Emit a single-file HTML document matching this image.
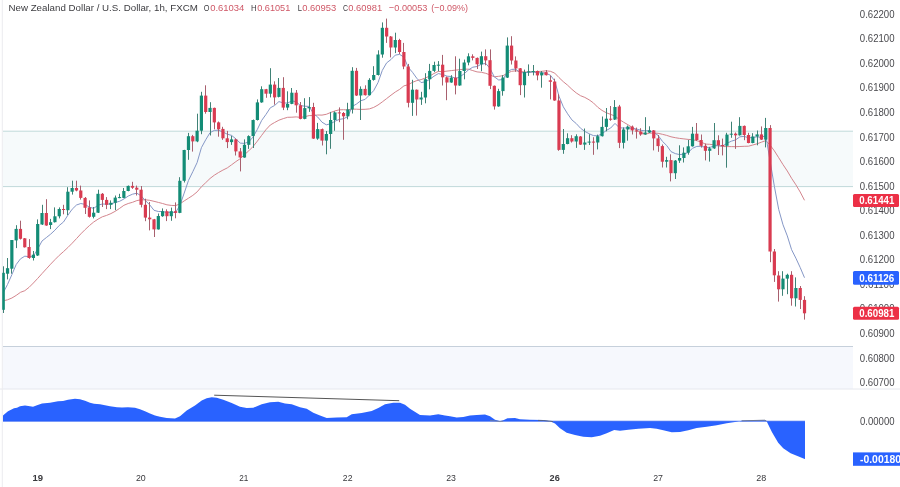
<!DOCTYPE html>
<html><head><meta charset="utf-8"><style>
html,body{margin:0;padding:0;background:#fff;width:900px;height:487px;overflow:hidden}
svg{position:absolute;left:0;top:0;will-change:transform}
text{font-family:"Liberation Sans",sans-serif}
.pl{font-size:10.4px;fill:#4a4a4e}
</style></head><body>
<svg width="900" height="487" viewBox="0 0 900 487">
<rect x="0" y="0" width="900" height="487" fill="#fff"/>
<rect x="3" y="131.2" width="850" height="55.4" fill="#f6fafb"/>
<line x1="3" y1="131.2" x2="853" y2="131.2" stroke="#c0d9da" stroke-width="1"/>
<line x1="3" y1="186.6" x2="853" y2="186.6" stroke="#c0d9da" stroke-width="1"/>
<rect x="3" y="346.5" width="850" height="42.5" fill="#f6f8fd"/>
<line x1="3" y1="346.5" x2="853" y2="346.5" stroke="#c6d0db" stroke-width="1"/>
<line x1="0" y1="389" x2="900" y2="389" stroke="#e6e8ee" stroke-width="1"/>
<line x1="2.3" y1="0" x2="2.3" y2="487" stroke="#ebebef" stroke-width="1"/>
<defs><clipPath id="ca"><rect x="2.2" y="0" width="850.8" height="389"/></clipPath></defs>
<g clip-path="url(#ca)">
<polyline points="3.2,300.8 7.5,299.8 11.9,298.0 16.2,295.4 20.5,292.3 24.8,290.7 29.1,287.3 33.4,283.0 37.7,278.4 42.0,273.6 46.3,268.9 50.6,264.2 54.9,259.7 59.2,255.4 63.5,251.6 67.9,247.5 72.2,243.2 76.5,238.6 80.8,233.9 85.1,229.6 89.4,225.6 93.7,222.0 98.0,219.2 102.3,216.8 106.6,215.4 110.9,213.6 115.2,211.3 119.6,208.4 123.9,205.3 128.2,203.5 132.5,202.3 136.8,200.6 141.1,199.8 145.4,199.8 149.7,200.3 154.0,201.3 158.3,202.4 162.6,203.5 166.9,204.8 171.2,205.4 175.6,205.6 179.9,203.9 184.2,200.9 188.5,198.2 192.8,195.4 197.1,191.9 201.4,186.8 205.7,182.7 210.0,178.5 214.3,175.2 218.6,172.5 222.9,170.1 227.3,167.9 231.6,164.8 235.9,161.6 240.2,158.7 244.5,154.6 248.8,150.8 253.1,146.5 257.4,141.1 261.7,135.3 266.0,129.6 270.3,125.0 274.6,122.5 278.9,120.2 283.3,118.6 287.6,117.3 291.9,117.2 296.2,116.9 300.5,117.4 304.8,116.7 309.1,115.6 313.4,115.6 317.7,115.0 322.0,115.1 326.3,114.3 330.6,112.5 335.0,110.9 339.3,109.8 343.6,109.7 347.9,110.0 352.2,109.1 356.5,109.2 360.8,109.4 365.1,109.3 369.4,108.9 373.7,107.4 378.0,105.0 382.3,101.9 386.6,98.6 391.0,95.2 395.3,92.0 399.6,89.4 403.9,85.9 408.2,84.7 412.5,82.3 416.8,80.6 421.1,79.6 425.4,78.0 429.7,76.0 434.0,73.5 438.3,71.4 442.7,71.7 447.0,71.1 451.3,70.6 455.6,70.1 459.9,69.7 464.2,69.1 468.5,69.2 472.8,70.6 477.1,71.9 481.4,72.3 485.7,73.3 490.0,74.9 494.3,76.8 498.7,76.3 503.0,75.7 507.3,73.1 511.6,71.3 515.9,70.8 520.2,71.5 524.5,71.9 528.8,72.2 533.1,71.9 537.4,71.5 541.7,71.3 546.0,70.8 550.4,71.3 554.7,73.1 559.0,77.6 563.3,81.7 567.6,85.2 571.9,89.3 576.2,92.9 580.5,95.7 584.8,97.4 589.1,99.8 593.4,102.9 597.7,107.2 602.0,110.4 606.4,112.8 610.7,114.4 615.0,116.1 619.3,119.5 623.6,122.2 627.9,124.7 632.2,127.4 636.5,130.1 640.8,132.6 645.1,134.2 649.4,133.2 653.7,133.0 658.1,133.3 662.4,134.3 666.7,135.4 671.0,136.8 675.3,137.7 679.6,138.4 683.9,138.9 688.2,139.4 692.5,139.7 696.8,140.7 701.1,142.0 705.4,144.1 709.7,144.3 714.1,144.9 718.4,145.7 722.7,146.5 727.0,146.6 731.3,146.6 735.6,146.7 739.9,146.5 744.2,146.3 748.5,146.2 752.8,145.0 757.1,143.8 761.4,142.2 765.8,140.6 770.1,145.1 774.4,150.9 778.7,157.7 783.0,164.6 787.3,171.0 791.6,178.3 795.9,184.8 800.2,192.0 804.5,200.3" fill="none" stroke="#d3858d" stroke-width="1"/>
<polyline points="3.2,292.8 7.5,284.5 11.9,274.6 16.2,264.5 20.5,258.8 24.8,256.2 29.1,256.6 33.4,256.2 37.7,249.0 42.0,241.0 46.3,237.6 50.6,234.2 54.9,230.2 59.2,225.5 63.5,222.0 67.9,215.2 72.2,209.2 76.5,205.0 80.8,203.5 85.1,204.4 89.4,207.2 93.7,208.4 98.0,205.2 102.3,204.0 106.6,204.2 110.9,203.9 115.2,202.5 119.6,201.3 123.9,199.0 128.2,196.1 132.5,194.2 136.8,193.2 141.1,195.8 145.4,200.6 149.7,204.8 154.0,210.3 158.3,211.5 162.6,211.5 166.9,212.5 171.2,212.2 175.6,212.4 179.9,205.4 184.2,193.1 188.5,180.4 192.8,171.7 197.1,162.6 201.4,147.7 205.7,139.8 210.0,132.7 214.3,130.4 218.6,130.2 222.9,132.0 227.3,134.2 231.6,135.4 235.9,138.9 240.2,143.1 244.5,143.4 248.8,141.8 253.1,137.0 257.4,129.3 261.7,120.4 266.0,114.4 270.3,107.8 274.6,105.5 278.9,101.6 283.3,102.9 287.6,103.1 291.9,100.8 296.2,101.8 300.5,105.6 304.8,106.2 309.1,106.4 313.4,113.5 317.7,117.0 322.0,122.2 326.3,124.8 330.6,123.8 335.0,121.2 339.3,119.4 343.6,118.7 347.9,116.6 352.2,106.5 356.5,104.0 360.8,100.7 365.1,99.4 369.4,95.1 373.7,90.6 378.0,82.6 382.3,70.4 386.6,62.9 391.0,59.5 395.3,55.1 399.6,54.4 403.9,57.1 408.2,67.3 412.5,72.3 416.8,78.3 421.1,82.6 425.4,81.8 429.7,79.4 434.0,76.2 438.3,73.6 442.7,74.5 447.0,76.2 451.3,76.5 455.6,78.5 459.9,76.9 464.2,73.7 468.5,69.8 472.8,67.2 477.1,66.5 481.4,64.2 485.7,63.4 490.0,68.4 494.3,76.8 498.7,80.0 503.0,79.5 507.3,71.9 511.6,69.4 515.9,69.2 520.2,72.8 524.5,72.6 528.8,72.3 533.1,72.0 537.4,72.8 541.7,72.7 546.0,73.3 550.4,75.2 554.7,80.8 559.0,96.2 563.3,106.8 567.6,113.8 571.9,119.9 576.2,123.5 580.5,128.2 584.8,131.4 589.1,133.7 593.4,135.6 597.7,135.8 602.0,133.8 606.4,130.4 610.7,128.0 615.0,123.4 619.3,127.7 623.6,128.1 627.9,127.8 632.2,128.3 636.5,129.0 640.8,130.3 645.1,130.8 649.4,130.7 653.7,132.4 658.1,135.4 662.4,141.3 666.7,145.5 671.0,151.6 675.3,153.6 679.6,154.6 683.9,154.2 688.2,152.4 692.5,148.3 696.8,146.4 701.1,146.3 705.4,147.3 709.7,147.5 714.1,145.9 718.4,145.7 722.7,145.8 727.0,143.3 731.3,141.2 735.6,139.9 739.9,136.8 744.2,136.4 748.5,137.8 752.8,137.5 757.1,136.8 761.4,137.5 765.8,135.4 770.1,161.2 774.4,186.5 778.7,209.4 783.0,224.8 787.3,235.9 791.6,249.7 795.9,258.2 800.2,267.5 804.5,277.7" fill="none" stroke="#8597c6" stroke-width="1"/>
<line x1="3.50" y1="266.3" x2="3.50" y2="313.0" stroke="#3f8276" stroke-width="1"/>
<rect x="1.64" y="272.8" width="3.2" height="37.0" fill="#138c76"/>
<line x1="7.50" y1="258.0" x2="7.50" y2="279.4" stroke="#3f8276" stroke-width="1"/>
<rect x="5.94" y="268.2" width="3.2" height="5.5" fill="#138c76"/>
<line x1="11.50" y1="240.0" x2="11.50" y2="273.7" stroke="#3f8276" stroke-width="1"/>
<rect x="10.25" y="240.0" width="3.2" height="28.7" fill="#138c76"/>
<line x1="16.50" y1="225.2" x2="16.50" y2="248.1" stroke="#3f8276" stroke-width="1"/>
<rect x="14.56" y="228.9" width="3.2" height="11.5" fill="#138c76"/>
<line x1="20.50" y1="220.7" x2="20.50" y2="239.5" stroke="#a8606e" stroke-width="1"/>
<rect x="18.87" y="228.9" width="3.2" height="9.9" fill="#d93b51"/>
<line x1="24.50" y1="238.0" x2="24.50" y2="247.5" stroke="#a8606e" stroke-width="1"/>
<rect x="23.18" y="238.3" width="3.2" height="9.0" fill="#d93b51"/>
<line x1="29.50" y1="239.1" x2="29.50" y2="258.8" stroke="#a8606e" stroke-width="1"/>
<rect x="27.48" y="247.0" width="3.2" height="11.0" fill="#d93b51"/>
<line x1="33.50" y1="251.0" x2="33.50" y2="260.5" stroke="#3f8276" stroke-width="1"/>
<rect x="31.79" y="254.7" width="3.2" height="3.3" fill="#138c76"/>
<line x1="37.50" y1="219.4" x2="37.50" y2="256.0" stroke="#3f8276" stroke-width="1"/>
<rect x="36.10" y="224.0" width="3.2" height="31.5" fill="#138c76"/>
<line x1="42.50" y1="204.8" x2="42.50" y2="225.0" stroke="#3f8276" stroke-width="1"/>
<rect x="40.41" y="213.0" width="3.2" height="11.5" fill="#138c76"/>
<line x1="46.50" y1="199.2" x2="46.50" y2="225.8" stroke="#a8606e" stroke-width="1"/>
<rect x="44.72" y="213.0" width="3.2" height="12.5" fill="#d93b51"/>
<line x1="50.50" y1="218.9" x2="50.50" y2="229.1" stroke="#3f8276" stroke-width="1"/>
<rect x="49.02" y="222.2" width="3.2" height="2.8" fill="#138c76"/>
<line x1="54.50" y1="207.4" x2="54.50" y2="222.5" stroke="#3f8276" stroke-width="1"/>
<rect x="53.33" y="216.3" width="3.2" height="5.9" fill="#138c76"/>
<line x1="59.50" y1="207.4" x2="59.50" y2="218.4" stroke="#3f8276" stroke-width="1"/>
<rect x="57.64" y="209.0" width="3.2" height="7.3" fill="#138c76"/>
<line x1="63.50" y1="204.8" x2="63.50" y2="214.3" stroke="#a8606e" stroke-width="1"/>
<rect x="61.95" y="209.0" width="3.2" height="1.0" fill="#d93b51"/>
<line x1="67.50" y1="187.2" x2="67.50" y2="215.1" stroke="#3f8276" stroke-width="1"/>
<rect x="66.26" y="191.7" width="3.2" height="18.5" fill="#138c76"/>
<line x1="72.50" y1="180.7" x2="72.50" y2="194.6" stroke="#3f8276" stroke-width="1"/>
<rect x="70.56" y="188.0" width="3.2" height="3.7" fill="#138c76"/>
<line x1="76.50" y1="180.7" x2="76.50" y2="191.3" stroke="#a8606e" stroke-width="1"/>
<rect x="74.87" y="188.0" width="3.2" height="2.5" fill="#d93b51"/>
<line x1="80.50" y1="185.6" x2="80.50" y2="199.6" stroke="#a8606e" stroke-width="1"/>
<rect x="79.18" y="190.5" width="3.2" height="7.4" fill="#d93b51"/>
<line x1="85.50" y1="197.0" x2="85.50" y2="214.0" stroke="#a8606e" stroke-width="1"/>
<rect x="83.49" y="197.9" width="3.2" height="9.9" fill="#d93b51"/>
<line x1="89.50" y1="200.4" x2="89.50" y2="217.6" stroke="#a8606e" stroke-width="1"/>
<rect x="87.80" y="207.4" width="3.2" height="9.4" fill="#d93b51"/>
<line x1="93.50" y1="207.0" x2="93.50" y2="218.4" stroke="#3f8276" stroke-width="1"/>
<rect x="92.10" y="212.7" width="3.2" height="4.1" fill="#138c76"/>
<line x1="98.50" y1="189.7" x2="98.50" y2="213.0" stroke="#3f8276" stroke-width="1"/>
<rect x="96.41" y="193.8" width="3.2" height="18.9" fill="#138c76"/>
<line x1="102.50" y1="193.0" x2="102.50" y2="207.0" stroke="#a8606e" stroke-width="1"/>
<rect x="100.72" y="193.8" width="3.2" height="6.1" fill="#d93b51"/>
<line x1="106.50" y1="197.1" x2="106.50" y2="209.1" stroke="#a8606e" stroke-width="1"/>
<rect x="105.03" y="199.9" width="3.2" height="4.9" fill="#d93b51"/>
<line x1="110.50" y1="200.4" x2="110.50" y2="209.1" stroke="#3f8276" stroke-width="1"/>
<rect x="109.34" y="202.8" width="3.2" height="2.0" fill="#138c76"/>
<line x1="115.50" y1="195.5" x2="115.50" y2="210.2" stroke="#3f8276" stroke-width="1"/>
<rect x="113.64" y="197.6" width="3.2" height="5.2" fill="#138c76"/>
<line x1="119.50" y1="193.8" x2="119.50" y2="198.2" stroke="#3f8276" stroke-width="1"/>
<rect x="117.95" y="197.1" width="3.2" height="1.0" fill="#138c76"/>
<line x1="123.50" y1="188.0" x2="123.50" y2="198.2" stroke="#3f8276" stroke-width="1"/>
<rect x="122.26" y="191.0" width="3.2" height="6.9" fill="#138c76"/>
<line x1="128.50" y1="185.5" x2="128.50" y2="191.3" stroke="#3f8276" stroke-width="1"/>
<rect x="126.57" y="185.9" width="3.2" height="5.1" fill="#138c76"/>
<line x1="132.50" y1="181.8" x2="132.50" y2="188.9" stroke="#a8606e" stroke-width="1"/>
<rect x="130.88" y="185.9" width="3.2" height="1.8" fill="#d93b51"/>
<line x1="136.50" y1="185.6" x2="136.50" y2="195.5" stroke="#a8606e" stroke-width="1"/>
<rect x="135.18" y="187.7" width="3.2" height="2.0" fill="#d93b51"/>
<line x1="141.50" y1="186.0" x2="141.50" y2="207.4" stroke="#a8606e" stroke-width="1"/>
<rect x="139.49" y="189.7" width="3.2" height="15.1" fill="#d93b51"/>
<line x1="145.50" y1="198.7" x2="145.50" y2="221.2" stroke="#a8606e" stroke-width="1"/>
<rect x="143.80" y="204.8" width="3.2" height="12.8" fill="#d93b51"/>
<line x1="149.50" y1="202.0" x2="149.50" y2="230.4" stroke="#a8606e" stroke-width="1"/>
<rect x="148.11" y="217.6" width="3.2" height="1.7" fill="#d93b51"/>
<line x1="154.50" y1="218.9" x2="154.50" y2="237.0" stroke="#a8606e" stroke-width="1"/>
<rect x="152.42" y="219.3" width="3.2" height="10.1" fill="#d93b51"/>
<line x1="158.50" y1="213.5" x2="158.50" y2="229.6" stroke="#3f8276" stroke-width="1"/>
<rect x="156.72" y="216.0" width="3.2" height="13.4" fill="#138c76"/>
<line x1="162.50" y1="208.4" x2="162.50" y2="216.8" stroke="#3f8276" stroke-width="1"/>
<rect x="161.03" y="211.2" width="3.2" height="5.0" fill="#138c76"/>
<line x1="166.50" y1="209.3" x2="166.50" y2="221.1" stroke="#a8606e" stroke-width="1"/>
<rect x="165.34" y="211.2" width="3.2" height="5.0" fill="#d93b51"/>
<line x1="171.50" y1="207.6" x2="171.50" y2="220.8" stroke="#3f8276" stroke-width="1"/>
<rect x="169.65" y="211.2" width="3.2" height="5.0" fill="#138c76"/>
<line x1="175.50" y1="202.4" x2="175.50" y2="218.3" stroke="#a8606e" stroke-width="1"/>
<rect x="173.96" y="211.2" width="3.2" height="1.7" fill="#d93b51"/>
<line x1="179.50" y1="177.2" x2="179.50" y2="213.2" stroke="#3f8276" stroke-width="1"/>
<rect x="178.26" y="180.8" width="3.2" height="32.1" fill="#138c76"/>
<line x1="184.50" y1="149.8" x2="184.50" y2="182.5" stroke="#3f8276" stroke-width="1"/>
<rect x="182.57" y="150.0" width="3.2" height="30.8" fill="#138c76"/>
<line x1="188.50" y1="132.9" x2="188.50" y2="159.8" stroke="#3f8276" stroke-width="1"/>
<rect x="186.88" y="136.2" width="3.2" height="13.8" fill="#138c76"/>
<line x1="192.50" y1="134.9" x2="192.50" y2="151.6" stroke="#a8606e" stroke-width="1"/>
<rect x="191.19" y="136.2" width="3.2" height="5.2" fill="#d93b51"/>
<line x1="197.50" y1="113.7" x2="197.50" y2="142.2" stroke="#3f8276" stroke-width="1"/>
<rect x="195.50" y="130.7" width="3.2" height="10.7" fill="#138c76"/>
<line x1="201.50" y1="91.8" x2="201.50" y2="134.2" stroke="#3f8276" stroke-width="1"/>
<rect x="199.80" y="95.6" width="3.2" height="35.1" fill="#138c76"/>
<line x1="205.50" y1="85.3" x2="205.50" y2="113.7" stroke="#a8606e" stroke-width="1"/>
<rect x="204.11" y="95.6" width="3.2" height="16.4" fill="#d93b51"/>
<line x1="210.50" y1="102.2" x2="210.50" y2="135.5" stroke="#3f8276" stroke-width="1"/>
<rect x="208.42" y="107.9" width="3.2" height="4.1" fill="#138c76"/>
<line x1="214.50" y1="107.6" x2="214.50" y2="129.3" stroke="#a8606e" stroke-width="1"/>
<rect x="212.73" y="107.9" width="3.2" height="14.5" fill="#d93b51"/>
<line x1="218.50" y1="121.5" x2="218.50" y2="136.7" stroke="#a8606e" stroke-width="1"/>
<rect x="217.04" y="122.4" width="3.2" height="6.9" fill="#d93b51"/>
<line x1="222.50" y1="126.8" x2="222.50" y2="139.9" stroke="#a8606e" stroke-width="1"/>
<rect x="221.34" y="128.9" width="3.2" height="9.4" fill="#d93b51"/>
<line x1="227.50" y1="130.9" x2="227.50" y2="148.1" stroke="#a8606e" stroke-width="1"/>
<rect x="225.65" y="138.3" width="3.2" height="3.8" fill="#d93b51"/>
<line x1="231.50" y1="135.8" x2="231.50" y2="144.9" stroke="#3f8276" stroke-width="1"/>
<rect x="229.96" y="139.4" width="3.2" height="2.7" fill="#138c76"/>
<line x1="235.50" y1="138.5" x2="235.50" y2="155.5" stroke="#a8606e" stroke-width="1"/>
<rect x="234.27" y="139.4" width="3.2" height="12.0" fill="#d93b51"/>
<line x1="240.50" y1="148.0" x2="240.50" y2="171.4" stroke="#a8606e" stroke-width="1"/>
<rect x="238.58" y="151.4" width="3.2" height="6.1" fill="#d93b51"/>
<line x1="244.50" y1="139.4" x2="244.50" y2="157.8" stroke="#3f8276" stroke-width="1"/>
<rect x="242.88" y="144.8" width="3.2" height="12.7" fill="#138c76"/>
<line x1="248.50" y1="135.3" x2="248.50" y2="148.9" stroke="#3f8276" stroke-width="1"/>
<rect x="247.19" y="136.1" width="3.2" height="8.7" fill="#138c76"/>
<line x1="253.50" y1="119.5" x2="253.50" y2="148.0" stroke="#3f8276" stroke-width="1"/>
<rect x="251.50" y="120.0" width="3.2" height="16.1" fill="#138c76"/>
<line x1="257.50" y1="99.4" x2="257.50" y2="120.5" stroke="#3f8276" stroke-width="1"/>
<rect x="255.81" y="102.4" width="3.2" height="17.6" fill="#138c76"/>
<line x1="261.50" y1="86.3" x2="261.50" y2="102.8" stroke="#3f8276" stroke-width="1"/>
<rect x="260.12" y="89.2" width="3.2" height="13.2" fill="#138c76"/>
<line x1="266.50" y1="88.9" x2="266.50" y2="97.8" stroke="#a8606e" stroke-width="1"/>
<rect x="264.42" y="89.2" width="3.2" height="4.5" fill="#d93b51"/>
<line x1="270.50" y1="68.2" x2="270.50" y2="97.4" stroke="#3f8276" stroke-width="1"/>
<rect x="268.73" y="84.6" width="3.2" height="9.1" fill="#138c76"/>
<line x1="274.50" y1="81.3" x2="274.50" y2="104.7" stroke="#a8606e" stroke-width="1"/>
<rect x="273.04" y="84.6" width="3.2" height="12.8" fill="#d93b51"/>
<line x1="278.50" y1="78.0" x2="278.50" y2="97.4" stroke="#3f8276" stroke-width="1"/>
<rect x="277.35" y="87.9" width="3.2" height="9.0" fill="#138c76"/>
<line x1="283.50" y1="77.2" x2="283.50" y2="110.1" stroke="#a8606e" stroke-width="1"/>
<rect x="281.66" y="87.9" width="3.2" height="19.7" fill="#d93b51"/>
<line x1="287.50" y1="91.3" x2="287.50" y2="110.2" stroke="#3f8276" stroke-width="1"/>
<rect x="285.96" y="103.9" width="3.2" height="3.7" fill="#138c76"/>
<line x1="291.50" y1="88.0" x2="291.50" y2="104.2" stroke="#3f8276" stroke-width="1"/>
<rect x="290.27" y="92.7" width="3.2" height="11.2" fill="#138c76"/>
<line x1="296.50" y1="90.0" x2="296.50" y2="112.7" stroke="#a8606e" stroke-width="1"/>
<rect x="294.58" y="92.7" width="3.2" height="12.6" fill="#d93b51"/>
<line x1="300.50" y1="102.0" x2="300.50" y2="119.3" stroke="#a8606e" stroke-width="1"/>
<rect x="298.89" y="105.3" width="3.2" height="13.6" fill="#d93b51"/>
<line x1="304.50" y1="98.2" x2="304.50" y2="119.3" stroke="#3f8276" stroke-width="1"/>
<rect x="303.20" y="108.1" width="3.2" height="10.8" fill="#138c76"/>
<line x1="309.50" y1="97.1" x2="309.50" y2="111.9" stroke="#3f8276" stroke-width="1"/>
<rect x="307.50" y="107.0" width="3.2" height="1.3" fill="#138c76"/>
<line x1="313.50" y1="102.8" x2="313.50" y2="139.0" stroke="#a8606e" stroke-width="1"/>
<rect x="311.81" y="107.0" width="3.2" height="31.6" fill="#d93b51"/>
<line x1="317.50" y1="122.9" x2="317.50" y2="139.8" stroke="#3f8276" stroke-width="1"/>
<rect x="316.12" y="129.1" width="3.2" height="9.5" fill="#138c76"/>
<line x1="322.50" y1="128.5" x2="322.50" y2="145.5" stroke="#a8606e" stroke-width="1"/>
<rect x="320.43" y="129.1" width="3.2" height="11.5" fill="#d93b51"/>
<line x1="326.50" y1="131.0" x2="326.50" y2="154.3" stroke="#3f8276" stroke-width="1"/>
<rect x="324.74" y="134.0" width="3.2" height="6.6" fill="#138c76"/>
<line x1="330.50" y1="111.9" x2="330.50" y2="148.8" stroke="#3f8276" stroke-width="1"/>
<rect x="329.04" y="120.0" width="3.2" height="14.0" fill="#138c76"/>
<line x1="334.50" y1="111.4" x2="334.50" y2="130.8" stroke="#3f8276" stroke-width="1"/>
<rect x="333.35" y="112.4" width="3.2" height="7.6" fill="#138c76"/>
<line x1="339.50" y1="107.4" x2="339.50" y2="122.2" stroke="#a8606e" stroke-width="1"/>
<rect x="337.66" y="112.4" width="3.2" height="1.0" fill="#d93b51"/>
<line x1="343.50" y1="112.0" x2="343.50" y2="139.8" stroke="#a8606e" stroke-width="1"/>
<rect x="341.97" y="113.0" width="3.2" height="3.3" fill="#d93b51"/>
<line x1="347.50" y1="102.8" x2="347.50" y2="119.3" stroke="#3f8276" stroke-width="1"/>
<rect x="346.28" y="109.4" width="3.2" height="6.9" fill="#138c76"/>
<line x1="352.50" y1="67.2" x2="352.50" y2="113.5" stroke="#3f8276" stroke-width="1"/>
<rect x="350.58" y="70.8" width="3.2" height="38.6" fill="#138c76"/>
<line x1="356.50" y1="67.9" x2="356.50" y2="96.0" stroke="#a8606e" stroke-width="1"/>
<rect x="354.89" y="70.8" width="3.2" height="24.7" fill="#d93b51"/>
<line x1="360.50" y1="86.4" x2="360.50" y2="120.0" stroke="#3f8276" stroke-width="1"/>
<rect x="359.20" y="88.9" width="3.2" height="6.6" fill="#138c76"/>
<line x1="365.50" y1="85.3" x2="365.50" y2="95.5" stroke="#a8606e" stroke-width="1"/>
<rect x="363.51" y="88.9" width="3.2" height="6.3" fill="#d93b51"/>
<line x1="369.50" y1="78.2" x2="369.50" y2="95.5" stroke="#3f8276" stroke-width="1"/>
<rect x="367.82" y="79.9" width="3.2" height="15.3" fill="#138c76"/>
<line x1="373.50" y1="66.2" x2="373.50" y2="80.7" stroke="#3f8276" stroke-width="1"/>
<rect x="372.12" y="75.0" width="3.2" height="4.9" fill="#138c76"/>
<line x1="378.50" y1="50.3" x2="378.50" y2="75.5" stroke="#3f8276" stroke-width="1"/>
<rect x="376.43" y="54.5" width="3.2" height="20.5" fill="#138c76"/>
<line x1="382.50" y1="22.4" x2="382.50" y2="57.7" stroke="#3f8276" stroke-width="1"/>
<rect x="380.74" y="27.8" width="3.2" height="26.7" fill="#138c76"/>
<line x1="386.50" y1="18.6" x2="386.50" y2="42.9" stroke="#a8606e" stroke-width="1"/>
<rect x="385.05" y="27.8" width="3.2" height="8.7" fill="#d93b51"/>
<line x1="390.50" y1="36.0" x2="390.50" y2="57.4" stroke="#a8606e" stroke-width="1"/>
<rect x="389.36" y="36.5" width="3.2" height="11.0" fill="#d93b51"/>
<line x1="395.50" y1="32.7" x2="395.50" y2="53.1" stroke="#3f8276" stroke-width="1"/>
<rect x="393.66" y="40.0" width="3.2" height="7.5" fill="#138c76"/>
<line x1="399.50" y1="38.8" x2="399.50" y2="54.1" stroke="#a8606e" stroke-width="1"/>
<rect x="397.97" y="40.0" width="3.2" height="12.0" fill="#d93b51"/>
<line x1="403.50" y1="42.9" x2="403.50" y2="69.2" stroke="#a8606e" stroke-width="1"/>
<rect x="402.28" y="52.0" width="3.2" height="14.5" fill="#d93b51"/>
<line x1="408.50" y1="63.9" x2="408.50" y2="107.4" stroke="#a8606e" stroke-width="1"/>
<rect x="406.59" y="66.5" width="3.2" height="36.3" fill="#d93b51"/>
<line x1="412.50" y1="79.8" x2="412.50" y2="115.9" stroke="#3f8276" stroke-width="1"/>
<rect x="410.90" y="89.7" width="3.2" height="13.1" fill="#138c76"/>
<line x1="416.50" y1="89.5" x2="416.50" y2="115.6" stroke="#a8606e" stroke-width="1"/>
<rect x="415.20" y="89.7" width="3.2" height="9.8" fill="#d93b51"/>
<line x1="421.50" y1="91.8" x2="421.50" y2="104.9" stroke="#3f8276" stroke-width="1"/>
<rect x="419.51" y="97.5" width="3.2" height="2.0" fill="#138c76"/>
<line x1="425.50" y1="73.2" x2="425.50" y2="103.3" stroke="#3f8276" stroke-width="1"/>
<rect x="423.82" y="79.2" width="3.2" height="18.3" fill="#138c76"/>
<line x1="429.50" y1="63.9" x2="429.50" y2="89.3" stroke="#3f8276" stroke-width="1"/>
<rect x="428.13" y="70.9" width="3.2" height="8.3" fill="#138c76"/>
<line x1="434.50" y1="61.7" x2="434.50" y2="72.1" stroke="#3f8276" stroke-width="1"/>
<rect x="432.44" y="65.0" width="3.2" height="5.9" fill="#138c76"/>
<line x1="438.50" y1="61.1" x2="438.50" y2="71.3" stroke="#3f8276" stroke-width="1"/>
<rect x="436.74" y="64.7" width="3.2" height="1.0" fill="#138c76"/>
<line x1="442.50" y1="54.9" x2="442.50" y2="85.5" stroke="#a8606e" stroke-width="1"/>
<rect x="441.05" y="64.7" width="3.2" height="12.6" fill="#d93b51"/>
<line x1="446.50" y1="76.5" x2="446.50" y2="100.2" stroke="#a8606e" stroke-width="1"/>
<rect x="445.36" y="77.3" width="3.2" height="5.2" fill="#d93b51"/>
<line x1="451.50" y1="75.2" x2="451.50" y2="82.8" stroke="#3f8276" stroke-width="1"/>
<rect x="449.67" y="77.6" width="3.2" height="4.9" fill="#138c76"/>
<line x1="455.50" y1="56.3" x2="455.50" y2="94.4" stroke="#a8606e" stroke-width="1"/>
<rect x="453.98" y="77.6" width="3.2" height="7.9" fill="#d93b51"/>
<line x1="459.50" y1="58.7" x2="459.50" y2="85.8" stroke="#3f8276" stroke-width="1"/>
<rect x="458.28" y="71.0" width="3.2" height="14.5" fill="#138c76"/>
<line x1="464.50" y1="59.6" x2="464.50" y2="79.3" stroke="#3f8276" stroke-width="1"/>
<rect x="462.59" y="62.5" width="3.2" height="8.5" fill="#138c76"/>
<line x1="468.50" y1="53.3" x2="468.50" y2="65.3" stroke="#3f8276" stroke-width="1"/>
<rect x="466.90" y="56.3" width="3.2" height="6.2" fill="#138c76"/>
<line x1="472.50" y1="54.3" x2="472.50" y2="60.4" stroke="#a8606e" stroke-width="1"/>
<rect x="471.21" y="56.3" width="3.2" height="1.6" fill="#d93b51"/>
<line x1="477.50" y1="57.5" x2="477.50" y2="69.0" stroke="#a8606e" stroke-width="1"/>
<rect x="475.52" y="57.9" width="3.2" height="6.4" fill="#d93b51"/>
<line x1="481.50" y1="51.6" x2="481.50" y2="71.2" stroke="#3f8276" stroke-width="1"/>
<rect x="479.82" y="56.2" width="3.2" height="8.1" fill="#138c76"/>
<line x1="485.50" y1="49.4" x2="485.50" y2="65.3" stroke="#a8606e" stroke-width="1"/>
<rect x="484.13" y="56.2" width="3.2" height="4.2" fill="#d93b51"/>
<line x1="490.50" y1="49.4" x2="490.50" y2="89.1" stroke="#a8606e" stroke-width="1"/>
<rect x="488.44" y="60.2" width="3.2" height="25.6" fill="#d93b51"/>
<line x1="494.50" y1="85.5" x2="494.50" y2="109.6" stroke="#a8606e" stroke-width="1"/>
<rect x="492.75" y="85.8" width="3.2" height="20.6" fill="#d93b51"/>
<line x1="498.50" y1="88.8" x2="498.50" y2="106.8" stroke="#3f8276" stroke-width="1"/>
<rect x="497.06" y="91.1" width="3.2" height="15.3" fill="#138c76"/>
<line x1="502.50" y1="75.2" x2="502.50" y2="95.7" stroke="#3f8276" stroke-width="1"/>
<rect x="501.36" y="77.6" width="3.2" height="13.5" fill="#138c76"/>
<line x1="507.50" y1="37.4" x2="507.50" y2="78.0" stroke="#3f8276" stroke-width="1"/>
<rect x="505.67" y="45.6" width="3.2" height="32.0" fill="#138c76"/>
<line x1="511.50" y1="36.2" x2="511.50" y2="64.5" stroke="#a8606e" stroke-width="1"/>
<rect x="509.98" y="45.6" width="3.2" height="14.9" fill="#d93b51"/>
<line x1="515.50" y1="56.4" x2="515.50" y2="71.8" stroke="#a8606e" stroke-width="1"/>
<rect x="514.29" y="60.5" width="3.2" height="8.0" fill="#d93b51"/>
<line x1="520.50" y1="68.0" x2="520.50" y2="95.1" stroke="#a8606e" stroke-width="1"/>
<rect x="518.60" y="68.3" width="3.2" height="16.9" fill="#d93b51"/>
<line x1="524.50" y1="69.6" x2="524.50" y2="97.5" stroke="#3f8276" stroke-width="1"/>
<rect x="522.90" y="72.1" width="3.2" height="13.1" fill="#138c76"/>
<line x1="528.50" y1="64.4" x2="528.50" y2="75.9" stroke="#3f8276" stroke-width="1"/>
<rect x="527.21" y="71.3" width="3.2" height="1.0" fill="#138c76"/>
<line x1="533.50" y1="65.0" x2="533.50" y2="75.4" stroke="#3f8276" stroke-width="1"/>
<rect x="531.52" y="71.0" width="3.2" height="1.0" fill="#138c76"/>
<line x1="537.50" y1="70.5" x2="537.50" y2="80.3" stroke="#a8606e" stroke-width="1"/>
<rect x="535.83" y="71.0" width="3.2" height="4.4" fill="#d93b51"/>
<line x1="541.50" y1="71.0" x2="541.50" y2="87.7" stroke="#3f8276" stroke-width="1"/>
<rect x="540.14" y="72.6" width="3.2" height="2.8" fill="#138c76"/>
<line x1="546.50" y1="70.0" x2="546.50" y2="75.5" stroke="#a8606e" stroke-width="1"/>
<rect x="544.44" y="72.1" width="3.2" height="3.1" fill="#d93b51"/>
<line x1="550.50" y1="75.5" x2="550.50" y2="99.4" stroke="#a8606e" stroke-width="1"/>
<rect x="548.75" y="80.3" width="3.2" height="1.5" fill="#d93b51"/>
<line x1="554.50" y1="78.7" x2="554.50" y2="100.8" stroke="#a8606e" stroke-width="1"/>
<rect x="553.06" y="81.6" width="3.2" height="18.9" fill="#d93b51"/>
<line x1="558.50" y1="94.3" x2="558.50" y2="150.8" stroke="#a8606e" stroke-width="1"/>
<rect x="557.37" y="100.5" width="3.2" height="49.4" fill="#d93b51"/>
<line x1="563.50" y1="129.0" x2="563.50" y2="153.8" stroke="#3f8276" stroke-width="1"/>
<rect x="561.68" y="144.0" width="3.2" height="5.9" fill="#138c76"/>
<line x1="567.50" y1="133.3" x2="567.50" y2="144.3" stroke="#3f8276" stroke-width="1"/>
<rect x="565.98" y="138.2" width="3.2" height="5.8" fill="#138c76"/>
<line x1="571.50" y1="135.2" x2="571.50" y2="142.6" stroke="#a8606e" stroke-width="1"/>
<rect x="570.29" y="138.2" width="3.2" height="3.3" fill="#d93b51"/>
<line x1="576.50" y1="134.3" x2="576.50" y2="147.9" stroke="#3f8276" stroke-width="1"/>
<rect x="574.60" y="136.2" width="3.2" height="5.3" fill="#138c76"/>
<line x1="580.50" y1="136.0" x2="580.50" y2="145.0" stroke="#a8606e" stroke-width="1"/>
<rect x="578.91" y="136.5" width="3.2" height="8.1" fill="#d93b51"/>
<line x1="584.50" y1="128.5" x2="584.50" y2="149.9" stroke="#3f8276" stroke-width="1"/>
<rect x="583.22" y="142.5" width="3.2" height="2.1" fill="#138c76"/>
<line x1="589.50" y1="134.3" x2="589.50" y2="145.0" stroke="#3f8276" stroke-width="1"/>
<rect x="587.52" y="141.6" width="3.2" height="1.0" fill="#138c76"/>
<line x1="593.50" y1="137.2" x2="593.50" y2="154.8" stroke="#a8606e" stroke-width="1"/>
<rect x="591.83" y="141.6" width="3.2" height="1.0" fill="#d93b51"/>
<line x1="597.50" y1="134.6" x2="597.50" y2="149.4" stroke="#3f8276" stroke-width="1"/>
<rect x="596.14" y="136.2" width="3.2" height="6.3" fill="#138c76"/>
<line x1="602.50" y1="116.5" x2="602.50" y2="136.5" stroke="#3f8276" stroke-width="1"/>
<rect x="600.45" y="126.9" width="3.2" height="9.3" fill="#138c76"/>
<line x1="606.50" y1="108.0" x2="606.50" y2="131.3" stroke="#3f8276" stroke-width="1"/>
<rect x="604.76" y="118.7" width="3.2" height="8.2" fill="#138c76"/>
<line x1="610.50" y1="106.0" x2="610.50" y2="120.8" stroke="#a8606e" stroke-width="1"/>
<rect x="609.06" y="118.7" width="3.2" height="1.0" fill="#d93b51"/>
<line x1="614.50" y1="100.1" x2="614.50" y2="120.0" stroke="#3f8276" stroke-width="1"/>
<rect x="613.37" y="107.0" width="3.2" height="12.6" fill="#138c76"/>
<line x1="619.50" y1="104.9" x2="619.50" y2="148.1" stroke="#a8606e" stroke-width="1"/>
<rect x="617.68" y="106.5" width="3.2" height="36.3" fill="#d93b51"/>
<line x1="623.50" y1="127.4" x2="623.50" y2="148.5" stroke="#3f8276" stroke-width="1"/>
<rect x="621.99" y="129.5" width="3.2" height="13.3" fill="#138c76"/>
<line x1="627.50" y1="125.5" x2="627.50" y2="140.7" stroke="#3f8276" stroke-width="1"/>
<rect x="626.30" y="126.6" width="3.2" height="2.9" fill="#138c76"/>
<line x1="632.50" y1="125.5" x2="632.50" y2="134.5" stroke="#a8606e" stroke-width="1"/>
<rect x="630.60" y="126.6" width="3.2" height="3.8" fill="#d93b51"/>
<line x1="636.50" y1="127.6" x2="636.50" y2="138.6" stroke="#a8606e" stroke-width="1"/>
<rect x="634.91" y="130.4" width="3.2" height="1.1" fill="#d93b51"/>
<line x1="640.50" y1="128.2" x2="640.50" y2="135.8" stroke="#a8606e" stroke-width="1"/>
<rect x="639.22" y="131.5" width="3.2" height="3.0" fill="#d93b51"/>
<line x1="645.50" y1="117.2" x2="645.50" y2="134.8" stroke="#3f8276" stroke-width="1"/>
<rect x="643.53" y="132.5" width="3.2" height="2.0" fill="#138c76"/>
<line x1="649.50" y1="126.3" x2="649.50" y2="133.0" stroke="#3f8276" stroke-width="1"/>
<rect x="647.84" y="130.4" width="3.2" height="2.1" fill="#138c76"/>
<line x1="653.50" y1="130.0" x2="653.50" y2="150.4" stroke="#a8606e" stroke-width="1"/>
<rect x="652.14" y="130.4" width="3.2" height="8.0" fill="#d93b51"/>
<line x1="658.50" y1="135.0" x2="658.50" y2="151.8" stroke="#a8606e" stroke-width="1"/>
<rect x="656.45" y="138.4" width="3.2" height="7.7" fill="#d93b51"/>
<line x1="662.50" y1="144.5" x2="662.50" y2="167.5" stroke="#a8606e" stroke-width="1"/>
<rect x="660.76" y="146.1" width="3.2" height="15.6" fill="#d93b51"/>
<line x1="666.50" y1="156.8" x2="666.50" y2="167.5" stroke="#3f8276" stroke-width="1"/>
<rect x="665.07" y="160.1" width="3.2" height="1.6" fill="#138c76"/>
<line x1="670.50" y1="154.3" x2="670.50" y2="181.4" stroke="#a8606e" stroke-width="1"/>
<rect x="669.38" y="160.1" width="3.2" height="13.1" fill="#d93b51"/>
<line x1="675.50" y1="160.0" x2="675.50" y2="179.0" stroke="#3f8276" stroke-width="1"/>
<rect x="673.68" y="160.6" width="3.2" height="12.6" fill="#138c76"/>
<line x1="679.50" y1="145.3" x2="679.50" y2="162.9" stroke="#3f8276" stroke-width="1"/>
<rect x="677.99" y="158.0" width="3.2" height="2.6" fill="#138c76"/>
<line x1="683.50" y1="147.4" x2="683.50" y2="162.5" stroke="#3f8276" stroke-width="1"/>
<rect x="682.30" y="152.7" width="3.2" height="5.3" fill="#138c76"/>
<line x1="688.50" y1="139.9" x2="688.50" y2="154.7" stroke="#3f8276" stroke-width="1"/>
<rect x="686.61" y="146.3" width="3.2" height="6.4" fill="#138c76"/>
<line x1="692.50" y1="126.9" x2="692.50" y2="146.6" stroke="#3f8276" stroke-width="1"/>
<rect x="690.92" y="133.7" width="3.2" height="12.6" fill="#138c76"/>
<line x1="696.50" y1="123.0" x2="696.50" y2="141.0" stroke="#a8606e" stroke-width="1"/>
<rect x="695.22" y="133.7" width="3.2" height="6.3" fill="#d93b51"/>
<line x1="701.50" y1="134.5" x2="701.50" y2="147.6" stroke="#a8606e" stroke-width="1"/>
<rect x="699.53" y="140.0" width="3.2" height="5.8" fill="#d93b51"/>
<line x1="705.50" y1="143.5" x2="705.50" y2="160.4" stroke="#a8606e" stroke-width="1"/>
<rect x="703.84" y="145.8" width="3.2" height="5.0" fill="#d93b51"/>
<line x1="709.50" y1="146.8" x2="709.50" y2="161.6" stroke="#3f8276" stroke-width="1"/>
<rect x="708.15" y="148.4" width="3.2" height="2.4" fill="#138c76"/>
<line x1="714.50" y1="123.0" x2="714.50" y2="148.9" stroke="#3f8276" stroke-width="1"/>
<rect x="712.46" y="140.2" width="3.2" height="8.2" fill="#138c76"/>
<line x1="718.50" y1="135.3" x2="718.50" y2="155.0" stroke="#a8606e" stroke-width="1"/>
<rect x="716.76" y="140.2" width="3.2" height="5.0" fill="#d93b51"/>
<line x1="722.50" y1="138.6" x2="722.50" y2="155.4" stroke="#a8606e" stroke-width="1"/>
<rect x="721.07" y="145.0" width="3.2" height="1.0" fill="#d93b51"/>
<line x1="726.50" y1="132.8" x2="726.50" y2="167.7" stroke="#3f8276" stroke-width="1"/>
<rect x="725.38" y="134.6" width="3.2" height="11.2" fill="#138c76"/>
<line x1="731.50" y1="121.7" x2="731.50" y2="137.8" stroke="#3f8276" stroke-width="1"/>
<rect x="729.69" y="133.7" width="3.2" height="1.0" fill="#138c76"/>
<line x1="735.50" y1="132.5" x2="735.50" y2="148.9" stroke="#a8606e" stroke-width="1"/>
<rect x="734.00" y="133.7" width="3.2" height="1.6" fill="#d93b51"/>
<line x1="739.50" y1="117.2" x2="739.50" y2="135.6" stroke="#3f8276" stroke-width="1"/>
<rect x="738.30" y="125.9" width="3.2" height="9.4" fill="#138c76"/>
<line x1="744.50" y1="125.5" x2="744.50" y2="140.2" stroke="#a8606e" stroke-width="1"/>
<rect x="742.61" y="125.9" width="3.2" height="9.1" fill="#d93b51"/>
<line x1="748.50" y1="132.8" x2="748.50" y2="143.3" stroke="#a8606e" stroke-width="1"/>
<rect x="746.92" y="135.0" width="3.2" height="8.0" fill="#d93b51"/>
<line x1="752.50" y1="133.2" x2="752.50" y2="143.3" stroke="#3f8276" stroke-width="1"/>
<rect x="751.23" y="136.5" width="3.2" height="6.5" fill="#138c76"/>
<line x1="757.50" y1="130.5" x2="757.50" y2="145.3" stroke="#3f8276" stroke-width="1"/>
<rect x="755.54" y="134.4" width="3.2" height="2.1" fill="#138c76"/>
<line x1="761.50" y1="126.4" x2="761.50" y2="140.0" stroke="#a8606e" stroke-width="1"/>
<rect x="759.84" y="134.4" width="3.2" height="5.2" fill="#d93b51"/>
<line x1="765.50" y1="117.9" x2="765.50" y2="147.4" stroke="#3f8276" stroke-width="1"/>
<rect x="764.15" y="128.0" width="3.2" height="11.6" fill="#138c76"/>
<line x1="770.50" y1="125.1" x2="770.50" y2="262.2" stroke="#a8606e" stroke-width="1"/>
<rect x="768.46" y="128.0" width="3.2" height="123.5" fill="#d93b51"/>
<line x1="774.50" y1="249.0" x2="774.50" y2="281.9" stroke="#a8606e" stroke-width="1"/>
<rect x="772.77" y="251.5" width="3.2" height="23.8" fill="#d93b51"/>
<line x1="778.50" y1="271.2" x2="778.50" y2="301.6" stroke="#a8606e" stroke-width="1"/>
<rect x="777.08" y="275.5" width="3.2" height="13.8" fill="#d93b51"/>
<line x1="782.50" y1="271.2" x2="782.50" y2="295.8" stroke="#3f8276" stroke-width="1"/>
<rect x="781.38" y="278.6" width="3.2" height="10.7" fill="#138c76"/>
<line x1="787.50" y1="273.7" x2="787.50" y2="294.2" stroke="#3f8276" stroke-width="1"/>
<rect x="785.69" y="274.8" width="3.2" height="3.8" fill="#138c76"/>
<line x1="791.50" y1="271.2" x2="791.50" y2="305.7" stroke="#a8606e" stroke-width="1"/>
<rect x="790.00" y="274.8" width="3.2" height="23.5" fill="#d93b51"/>
<line x1="795.50" y1="277.4" x2="795.50" y2="306.5" stroke="#3f8276" stroke-width="1"/>
<rect x="794.31" y="288.0" width="3.2" height="10.3" fill="#138c76"/>
<line x1="800.50" y1="286.0" x2="800.50" y2="309.0" stroke="#a8606e" stroke-width="1"/>
<rect x="798.62" y="288.0" width="3.2" height="11.9" fill="#d93b51"/>
<line x1="804.50" y1="296.2" x2="804.50" y2="319.6" stroke="#a8606e" stroke-width="1"/>
<rect x="802.92" y="299.9" width="3.2" height="13.4" fill="#d93b51"/>
</g>
<polygon points="3,421.2 3.0,415.5 5.0,413.8 8.0,411.3 14.0,408.3 17.0,407.7 20.0,406.3 25.0,405.5 30.0,406.3 33.0,406.7 37.0,405.2 42.0,403.5 50.0,402.7 58.0,401.3 63.0,401.0 68.0,399.7 75.0,398.8 80.0,399.3 85.0,400.8 90.0,402.7 94.0,403.8 100.0,404.2 105.0,405.2 110.0,406.3 117.0,407.2 122.0,407.5 128.0,407.2 135.0,407.7 140.0,409.3 145.0,411.3 150.0,413.5 155.0,415.5 160.0,416.7 166.7,418.0 175.0,418.5 180.0,416.3 186.7,410.5 195.0,405.5 201.7,400.5 206.7,398.3 211.7,397.2 216.7,397.7 223.3,399.7 231.7,403.0 240.0,406.7 246.7,408.0 253.3,407.7 261.7,404.3 270.0,402.2 278.3,401.7 285.0,403.5 291.7,404.3 300.0,407.2 306.7,408.8 313.3,412.7 320.0,415.5 326.7,418.0 336.7,417.5 346.7,417.2 351.7,414.3 361.7,413.0 371.7,411.0 378.3,408.0 385.0,404.2 393.3,402.7 400.0,402.7 405.0,404.7 410.0,408.8 420.0,415.0 430.0,415.5 438.3,414.3 445.0,415.5 450.0,416.3 456.7,417.5 463.3,417.0 470.0,415.5 476.7,415.0 485.0,414.5 490.0,416.3 495.0,419.7 500.0,421.2 503.3,420.3 507.5,418.3 515.0,418.0 520.0,419.2 530.0,419.7 543.3,420.0 550.0,421.2 555.0,423.5 560.0,428.3 566.7,432.7 575.0,435.0 583.3,436.7 591.7,437.2 600.0,435.8 606.7,433.3 614.2,430.0 620.0,430.8 628.3,429.7 638.3,428.8 650.0,428.0 656.7,428.7 663.3,430.3 671.7,432.2 680.0,432.0 688.3,430.3 696.7,428.0 706.7,426.7 716.7,425.3 726.7,423.3 736.7,421.7 741.7,420.8 750.0,420.6 764.7,420.2 766.5,421.1 772.0,432.2 778.2,442.7 783.2,448.2 790.6,453.2 798.0,456.2 804.7,459.0 805.0,459.0 805,421.2" fill="#2962ff"/>
<line x1="3" y1="421.2" x2="805" y2="421.2" stroke="#2458f0" stroke-width="0.7"/>
<polyline points="490,420.6 495,420.9 500,421.6 503.3,421.2" fill="none" stroke="#7a8296" stroke-width="0.8"/>
<polyline points="538,420.4 543.3,420.5 550,421.2 553,421.6" fill="none" stroke="#5a6278" stroke-width="0.9"/>
<polyline points="741.7,420.8 750,420.6 764.7,420.2 766.5,421.1" fill="none" stroke="#6a7288" stroke-width="0.9"/>
<line x1="214.2" y1="395.2" x2="399.2" y2="400.7" stroke="#555" stroke-width="1"/>
<g class="pl">
<text x="894.5" y="17.80" text-anchor="end" textLength="34.7" lengthAdjust="spacingAndGlyphs">0.62200</text>
<text x="894.5" y="42.35" text-anchor="end" textLength="34.7" lengthAdjust="spacingAndGlyphs">0.62100</text>
<text x="894.5" y="66.90" text-anchor="end" textLength="34.7" lengthAdjust="spacingAndGlyphs">0.62000</text>
<text x="894.5" y="91.45" text-anchor="end" textLength="34.7" lengthAdjust="spacingAndGlyphs">0.61900</text>
<text x="894.5" y="116.00" text-anchor="end" textLength="34.7" lengthAdjust="spacingAndGlyphs">0.61800</text>
<text x="894.5" y="140.55" text-anchor="end" textLength="34.7" lengthAdjust="spacingAndGlyphs">0.61700</text>
<text x="894.5" y="165.10" text-anchor="end" textLength="34.7" lengthAdjust="spacingAndGlyphs">0.61600</text>
<text x="894.5" y="189.65" text-anchor="end" textLength="34.7" lengthAdjust="spacingAndGlyphs">0.61500</text>
<text x="894.5" y="214.20" text-anchor="end" textLength="34.7" lengthAdjust="spacingAndGlyphs">0.61400</text>
<text x="894.5" y="238.75" text-anchor="end" textLength="34.7" lengthAdjust="spacingAndGlyphs">0.61300</text>
<text x="894.5" y="263.30" text-anchor="end" textLength="34.7" lengthAdjust="spacingAndGlyphs">0.61200</text>
<text x="894.5" y="287.85" text-anchor="end" textLength="34.7" lengthAdjust="spacingAndGlyphs">0.61100</text>
<text x="894.5" y="312.40" text-anchor="end" textLength="34.7" lengthAdjust="spacingAndGlyphs">0.61000</text>
<text x="894.5" y="336.95" text-anchor="end" textLength="34.7" lengthAdjust="spacingAndGlyphs">0.60900</text>
<text x="894.5" y="361.50" text-anchor="end" textLength="34.7" lengthAdjust="spacingAndGlyphs">0.60800</text>
<text x="894.5" y="386.05" text-anchor="end" textLength="34.7" lengthAdjust="spacingAndGlyphs">0.60700</text>
<text x="894.5" y="424.9" text-anchor="end" textLength="34.5" lengthAdjust="spacingAndGlyphs">0.00000</text>
</g>
<rect x="853" y="194" width="46" height="13" rx="1.5" fill="#ec3046"/>
<text x="894.3" y="204.1" text-anchor="end" textLength="35" lengthAdjust="spacingAndGlyphs" style="fill:#fff;font-weight:bold;font-size:10.2px">0.61441</text>
<rect x="853" y="271.1" width="46" height="13.6" rx="1.5" fill="#2962ff"/>
<text x="894.3" y="281.5" text-anchor="end" textLength="35" lengthAdjust="spacingAndGlyphs" style="fill:#fff;font-weight:bold;font-size:10.2px">0.61126</text>
<rect x="853" y="306.7" width="46" height="13" rx="1.5" fill="#ec3046"/>
<text x="894.3" y="316.8" text-anchor="end" textLength="35" lengthAdjust="spacingAndGlyphs" style="fill:#fff;font-weight:bold;font-size:10.2px">0.60981</text>
<rect x="853" y="452.4" width="47" height="13.4" fill="#2962ff"/>
<text x="860" y="462.7" textLength="41" lengthAdjust="spacingAndGlyphs" style="fill:#fff;font-weight:bold;font-size:10.2px">-0.00180</text>
<g style="font-size:9.8px;fill:#38383c">
<text x="32.4" y="481.3" textLength="10.6" lengthAdjust="spacingAndGlyphs" style="font-weight:bold">19</text>
<text x="135.9" y="481.3" textLength="9.8" lengthAdjust="spacingAndGlyphs">20</text>
<text x="239.3" y="481.3" textLength="9.1" lengthAdjust="spacingAndGlyphs">21</text>
<text x="342.8" y="481.3" textLength="9.7" lengthAdjust="spacingAndGlyphs">22</text>
<text x="446.2" y="481.3" textLength="9.7" lengthAdjust="spacingAndGlyphs">23</text>
<text x="549.6" y="481.3" textLength="10.2" lengthAdjust="spacingAndGlyphs" style="font-weight:bold">26</text>
<text x="653.2" y="481.3" textLength="9.8" lengthAdjust="spacingAndGlyphs">27</text>
<text x="756.3" y="481.3" textLength="10" lengthAdjust="spacingAndGlyphs">28</text>
</g>
<g style="font-size:9.9px;fill:#3c3c40">
<text x="8.5" y="10.7" textLength="189.3" lengthAdjust="spacingAndGlyphs">New Zealand Dollar / U.S. Dollar, 1h, FXCM</text>
<text x="203.7" y="10.7" textLength="5.7" lengthAdjust="spacingAndGlyphs">O</text>
<text x="210.2" y="10.7" textLength="34.2" lengthAdjust="spacingAndGlyphs" style="fill:#cf5867">0.61034</text>
<text x="251" y="10.7" textLength="5.6" lengthAdjust="spacingAndGlyphs">H</text>
<text x="257.2" y="10.7" textLength="33.1" lengthAdjust="spacingAndGlyphs" style="fill:#cf5867">0.61051</text>
<text x="297.8" y="10.7" textLength="4.2" lengthAdjust="spacingAndGlyphs">L</text>
<text x="302.2" y="10.7" textLength="34" lengthAdjust="spacingAndGlyphs" style="fill:#cf5867">0.60953</text>
<text x="343" y="10.7" textLength="5" lengthAdjust="spacingAndGlyphs">C</text>
<text x="348.3" y="10.7" textLength="33.8" lengthAdjust="spacingAndGlyphs" style="fill:#cf5867">0.60981</text>
<text x="389" y="10.7" textLength="38.3" lengthAdjust="spacingAndGlyphs" style="fill:#cf5867">&#8722;0.00053</text>
<text x="431.3" y="10.7" textLength="36.7" lengthAdjust="spacingAndGlyphs" style="fill:#cf5867">(&#8722;0.09%)</text>
</g>
</svg>
</body></html>
